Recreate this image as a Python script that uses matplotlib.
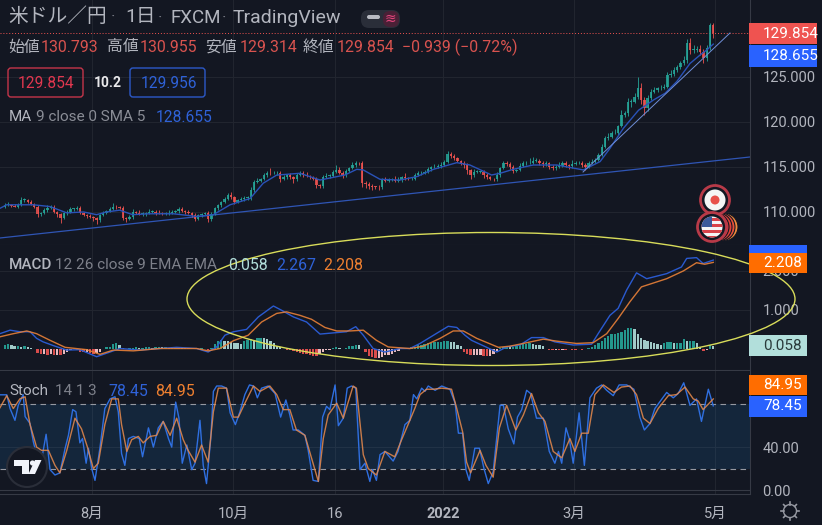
import numpy as np
import matplotlib
matplotlib.use("Agg")
import matplotlib.pyplot as plt
from matplotlib.patches import Ellipse, Circle, Rectangle, FancyBboxPatch, Polygon

plt.rcParams['font.family'] = ['Roboto', 'Noto Sans CJK JP', 'DejaVu Sans']

BG = '#131722'
GRID = '#21252f'
AXIS_LINE = '#363a45'
TEXT = '#b2b5be'
UP = '#26a69a'
DOWN = '#ef5350'
BLUE = '#2962ff'
ORANGE = '#ff6d00'

# daily closes
closes = [
    110.78, 110.78, 110.7, 110.6, 110.78, 111.33, 111.33, 111.15, 110.9, 110.6,
    109.78, 109.93, 110.22, 110.48, 110.52, 110.04, 109.78, 109.3, 109.85, 110.04,
    110.33, 110.37, 110.41, 109.85, 109.7, 109.55, 109.48, 109.33, 109.11, 109.63,
    109.93, 110.07, 110.37, 110.56, 110.52, 110.44, 109.3, 109.19, 109.41, 110.0,
    109.93, 109.78, 109.78, 109.93, 110.0, 110.04, 109.89, 109.85, 109.81, 109.85,
    109.85, 110.0, 110.07, 110.3, 110.15, 110.0, 109.93, 109.67, 109.26, 109.63,
    109.78, 109.85, 109.22, 109.78, 110.41, 110.74, 111.11, 111.41, 111.89, 111.63,
    111.11, 111.33, 111.44, 111.52, 111.63, 112.44, 113.37, 113.48, 113.63, 114.11,
    114.37, 114.3, 114.3, 114.3, 113.63, 113.85, 114.07, 113.85, 113.63, 114.11,
    114.3, 114.11, 114.0, 113.85, 113.7, 113.0, 112.89, 113.93, 114.0, 114.0,
    114.48, 114.67, 114.37, 114.11, 114.59, 114.85, 115.22, 115.48, 115.41, 113.19,
    113.11, 112.89, 112.81, 112.78, 112.74, 113.55, 113.48, 113.52, 113.55, 113.48,
    113.55, 113.85, 113.74, 113.63, 113.7, 114.11, 114.3, 114.37, 114.48, 114.74,
    114.96, 115.04, 115.11, 115.22, 115.59, 116.44, 116.22, 115.96, 115.7, 115.48,
    115.22, 114.67, 114.11, 114.48, 114.48, 114.48, 114.11, 113.85, 113.7, 113.63,
    114.11, 114.85, 115.41, 115.33, 115.04, 114.59, 114.67, 115.11, 115.41, 115.41,
    115.48, 115.7, 115.7, 115.48, 115.33, 115.41, 115.04, 114.85, 114.96, 115.11,
    115.41, 115.22, 115.11, 115.33, 115.41, 115.41, 115.22, 115.04, 115.41, 115.59,
    115.78, 116.3, 117.26, 118.19, 118.37, 118.74, 118.8, 119.5, 120.8, 120.97,
    122.26, 122.26, 122.8, 123.74, 122.45, 121.52, 122.63, 123.37, 123.56, 123.74,
    123.74, 123.93, 125.22, 125.33, 125.78, 126.15, 126.52, 126.9, 128.82, 128.0,
    128.0, 128.08, 127.82, 127.08, 128.19, 130.793, 129.854,
]
first_open = 110.6
wick_up = [
    .2, .3, .1, .2, .2, .3, .2, .1, .2, .1,
    .2, .1, .2, .3, .2, .2, .1, .1, .2, .2,
    .2, .1, .3, .2, .1, .1, .2, .1, .1, .2,
    .2, .1, .2, .4, .2, .1, .2, .1, .2, .3,
    .1, .3, .2, .1, .3, .2, .2, .3, .1, .2,
    .4, .2, .1, .3, .2, .1, .2, .1, .2, .2,
    .1, .2, .3, .2, .1, .2, .1, .3, .2, .3,
    .2, .1, .2, .2, .1, .3, .2, .3, .1, .2,
    .2, .5, .2, .2, .2, .3, .1, .3, .2, .2,
    .3, .2, .3, .1, .2, .2, .1, .2, .3, .2,
    .2, .5, .3, .2, .2, .2, .3, .2, .1, .3,
    .3, .2, .2, .1, .2, .2, .3, .2, .2, .4,
    .3, .2, .5, .2, .2, .2, .3, .2, .2, .3,
    .2, .3, .2, .3, .2, .3, .2, .2, .2, .1,
    .2, .2, .1, .3, .2, .1, .2, .2, .2, .1,
    .3, .2, .3, .2, .2, .2, .1, .3, .3, .2,
    .5, .4, .3, .2, .2, .3, .1, .2, .3, .4,
    .2, .3, .1, .4, .2, .2, .3, .2, .2, .3,
    .2, .2, .3, .2, .4, .3, .4, .2, .5, .3,
    .4, .3, .4, 1.3, .6, .3, .4, .3, .3, .2,
    .4, .3, .3, .5, .3, .2, .3, .4, .4, .5,
    .5, .4, .5, .3, .4, .162, .162,
]
wick_dn = [
    .2, .1, .2, .1, .2, .1, .2, .2, .1, .2,
    .3, .2, .1, .2, .1, .2, .3, .5, .1, .2,
    .1, .2, .2, .1, .2, .2, .1, .3, .4, .2,
    .1, .2, .1, .1, .2, .1, .2, .3, .1, .2,
    .2, .1, .2, .2, .1, .1, .2, .1, .2, .1,
    .2, .1, .1, .2, .1, .2, .1, .2, .3, .1,
    .2, .1, .3, .2, .1, .2, .2, .1, .1, .2,
    .2, .1, .1, .2, .2, .3, .2, .1, .2, .1,
    .2, .2, .1, .2, .3, .1, .2, .2, .4, .2,
    .1, .2, .1, .2, .2, .3, .2, .2, .1, .2,
    .1, .1, .2, .3, .2, .1, .1, .2, .2, .4,
    .4, .3, .4, .2, .3, .2, .1, .2, .1, .2,
    .1, .2, .2, .1, .1, .2, .1, .2, .1, .1,
    .2, .1, .1, .2, .1, .1, .2, .2, .2, .3,
    .3, .4, .4, .2, .2, .2, .3, .2, .2, .2,
    .2, .2, .1, .2, .3, .3, .2, .1, .1, .2,
    .1, .1, .2, .3, .3, .2, .3, .2, .2, .1,
    .1, .2, .3, .2, .1, .1, .2, .4, .2, .1,
    .2, .1, .1, .2, .2, .2, .1, .3, .1, .2,
    .3, .6, .2, .2, .5, .7, .3, .2, .2, .2,
    .2, .1, .2, .2, .2, .2, .3, .2, .3, .4,
    .3, .2, .4, .5, .3, .2, .54,
]

# moving average and trend lines on the price pane (bar index, price)
ma_bars = [-1.5, 0.6, 4.1, 8.7, 13.8, 18.9, 24, 28, 31, 35, 39, 44, 51.4, 58.5, 63.6, 68.7, 74.8,
           78.8, 82.9, 90, 96.1, 103.7, 107.3, 109.3, 114.4, 120.5, 125.6, 130.7, 137.8, 141.8,
           148.4, 151, 155, 161.1, 168.3, 176.4, 181.5, 184.5, 188.6, 193.2, 197.8, 201.3, 204.9,
           208.9, 212, 214, 216]
ma_vals = [110.4, 110.8, 110.8, 110.8, 110.6, 109.9, 110, 109.7, 110, 110.2, 109.7, 109.8, 109.8,
           109.5, 109.7, 110.8, 111.5, 113.2, 114.1, 114.3, 113.55, 114.11, 114.74, 114.67, 113.63,
           113.55, 113.93, 114.74, 115.48, 115.22, 114.11, 114.3, 114.74, 115.22, 115.22, 114.67,
           115.6, 117.07, 119.3, 121.3, 122.45, 123.19, 124.5, 126.5, 127.45, 128.0, 128.655]
trend_long_bars = [-1.46, 227.2]
trend_long_vals = [107.11, 116.11]
trend_steep_bars = [176.3, 221.1]
trend_steep_vals = [114.44, 129.89]

# MACD pane
macd_bars = [-1.5, 1.6, 4.6, 7.7, 9.7, 11.7, 15.3, 18.9, 22.9, 28, 32.1, 35.1, 41.2, 47.3, 52.4,
             58.5, 62, 64.6, 67.1, 69.7, 73.7, 77.3, 81.9, 84.4, 88, 92, 96.1, 100.1, 104.2, 107,
             109.3, 112.3, 115.9, 120.5, 123.5, 126.6, 130.7, 135.2, 137.8, 140.3, 142.3, 145.4,
             150, 153, 157.1, 160.6, 164.2, 167.7, 173.3, 178.9, 180.9, 184.5, 187, 189.6, 192.6,
             195.7, 201.8, 206.3, 207.9, 210.9, 212.9, 216]
macd_vals = [.38, .47, .43, .43, .26, .17, .06, -.04, -.03, -.21, -.09, 0, -.04, 0, .03,
             0, -.09, .04, .34, .43, .49, .81, 1.09, .98, .81, .68, .37, .4, .43, .56,
             .34, 0, -.09, 0, 0, .13, .34, .57, .54, .34, .21, .09,
             -.09, .04, .09, .28, .28, .17, .09, .11, .38, .85, 1.03, 1.5, 1.94,
             1.79, 1.92, 2.09, 2.31, 2.33, 2.18, 2.267]
signal_bars = [-1.5, 2.6, 6.7, 9.7, 13.8, 18.4, 25, 29, 33.1, 39.2, 47.3, 58.5, 62, 65.6, 69.7, 74.2,
               78.3, 82.9, 85.9, 90, 93.5, 97.6, 101.2, 105.2, 109.3, 113.3, 116.9, 123.5, 127.6,
               132.7, 136.7, 139.8, 143.9, 150.5, 154, 158.1, 164.2, 168.2, 174.3, 179.4, 183.5,
               187, 190.6, 194.1, 201.8, 206.9, 210.9, 213.4, 216]
signal_vals = [.30, .38, .45, .38, .21, .03, -.03, -.15, -.04, -.06, 0, 0, -.06, 0, .2, .34,
               .68, .9, .94, .85, .75, .54, .45, .45, .47, .21, .04, 0, .06,
               .26, .45, .45, .26, .03, .06, .13, .24, .19, .13, .15, .38,
               .77, 1.2, 1.58, 1.79, 1.99, 2.2, 2.16, 2.208]
hist_vals = [
    .10, .11, .09, .06, .07, .04, .07, .05, .02, -.02,
    -.12, -.15, -.15, -.16, -.15, -.16, -.16, -.17, -.14, -.10,
    -.05, -.01, -.04, -.08, -.10, -.10, -.11, -.13, -.12, -.08,
    -.02, .03, .05, .11, .13, .10, .01, -.01, .02, .02,
    .03, .02, .02, .03, .03, .02, .03, .05, .03, .03,
    .02, .03, .04, .05, .03, .02, .01, -.01, -.02, -.01,
    .01, .0, -.04, .02, .12, .20, .22, .20, .18, .16,
    .15, .14, .12, .18, .22, .24, .22, .26, .28, .26,
    .24, .20, .14, .07, .03, -.01, -.04, -.05, -.07, -.09,
    -.11, -.13, -.15, -.16, -.19, -.20, -.15, -.10, -.05, -.03,
    .02, .03, .01, -.01, .01, .06, .07, .09, .08, -.02,
    -.10, -.20, -.23, -.25, -.25, -.23, -.17, -.17, -.14, -.09,
    -.07, -.02, -.01, .01, .03, .05, .08, .10, .12, .13,
    .15, .16, .17, .17, .18, .20, .17, .16, .10, .07,
    -.10, -.15, -.17, -.17, -.17, -.17, -.18, -.20, -.18, -.15,
    -.06, .02, .03, .05, .04, .04, .07, .09, .11, .12,
    .13, .12, .09, .08, .07, -.01, -.03, -.04, -.03, -.05,
    -.03, -.04, -.02, -.03, -.04, -.02, -.03, -.02, .02, .04,
    .08, .14, .20, .28, .33, .37, .38, .40, .42, .47,
    .52, .53, .50, .38, .26, .23, .18, .16, .13, .12,
    .10, .15, .16, .16, .14, .14, .14, .24, .20, .20,
    .20, .13, .03, -.07, -.05, .09, .058,
]

# Stochastic pane
k_bars = [-1.5, 0.6, 1.6, 3.1, 4.1, 5.6, 6.2, 7.7, 8.7, 9.7, 11.2, 12.6, 13.8, 15.3, 16.8, 18.4, 19.4,
          20.7, 21.7, 22.9, 23.7, 24.8, 25.5, 26.5, 27.5, 29, 30.5, 32.1, 33.6, 34.6, 35.6, 36.6,
          37.7, 39.2, 41, 42, 43.8, 45.3, 46.8, 48.3, 49.9, 50.9, 52.1, 53.1, 54.1, 55.5, 57, 58,
          59.5, 60.5, 61.5, 62.8, 63.6, 64.6, 66.1, 67.6, 68.7, 70.3, 71.7, 73.2, 74.6, 75.8, 77,
          78.3, 80.3, 82.4, 84.1, 85.7, 86.9, 87.9, 89.5, 91.5, 92.5, 94, 95.6, 96.9, 98.1, 99.1,
          100.7, 101.7, 103.2, 104.4, 105.7, 107, 108.3, 109.8, 111.3, 112.1, 113.3, 114.4, 115.9,
          118.4, 119.9, 122, 123.5, 124.6, 125.6, 127.1, 128.1, 129.1, 131.2, 133.2, 135.7, 137.3,
          138.3, 139.6, 140.6, 141.6, 143.3, 144.7, 146.1, 147.4, 148.9, 151, 152, 153.5, 155.2,
          156.3, 157.6, 159.1, 160.3, 162.1, 164.2, 166, 167.7, 168.8, 169.8, 171.1, 172.1, 173.3,
          175.1, 176.7, 178.4, 180.4, 182, 183.5, 185.5, 187.3, 189.6, 191.8, 193.6, 195, 196.7,
          198.2, 201.8, 203.8, 205.3, 207, 208.9, 210.9, 212.4, 214.5, 216]
k_vals = [88.8, 88.8, 76, 65, 79, 89, 68.5, 62, 45, 33, 28, 52, 19, 14, 16, 39, 51,
          75, 73, 44, 48, 25, 39, 20, 9, 39, 76, 85, 87, 73, 34, 23,
          48, 50, 48, 31, 58, 40, 58, 64, 48, 40, 82, 67, 25, 42, 19, 25,
          65, 23, 6, 48, 92, 97, 97, 95, 72, 61, 73, 89, 98, 97, 86,
          95, 97, 90, 68, 84, 70, 56, 56, 51, 37, 9, 8, 68, 78, 75,
          98, 60, 67, 95, 97, 95, 19, 25, 8, 19, 9, 33, 36,
          27, 36, 61, 65, 89, 85, 95, 92, 97, 93, 97, 94, 81,
          53, 53, 19, 9, 39, 39, 20, 6, 17, 79, 79, 57, 43,
          68, 75, 93, 90, 67, 67, 36, 25, 36, 25, 58, 48, 25,
          72, 23, 86, 95, 98, 93, 88, 98, 98, 94, 68, 56, 62,
          76, 91, 86, 90, 100, 79, 85, 64, 94, 78.45]
d_bars = [-1.5, 0.6, 2.6, 4.6, 6.2, 7.7, 9.7, 11.2, 13.3, 15.3, 16.8, 18.9, 21.4, 23.4, 25.2, 27, 28.5,
          30.5, 32.6, 34.6, 35.6, 37.2, 38.7, 40.7, 42.2, 44.3, 46.3, 48.3, 50.4, 52.4, 54.4, 55.9,
          58, 60, 62, 63.6, 65.1, 67.6, 69.7, 71.2, 73.2, 75.8, 77.8, 80.8, 82.9, 84.9, 86.9, 88.9,
          91.5, 93.5, 95.6, 97.1, 98.6, 101.2, 103.2, 106.2, 107.2, 109.3, 110.8, 113.3, 115.9,
          118.9, 121, 123.5, 125, 126.6, 128.6, 130.7, 133.2, 136.2, 137.8, 139.6, 140.8, 142,
          144.9, 146.7, 148.9, 150.8, 153, 155.8, 158.1, 160.6, 162.7, 164.7, 167.2, 169.8, 172.3,
          173.8, 175.9, 177.9, 179.9, 182.5, 185.7, 188, 190.6, 192.6, 194.7, 196.7, 199.2, 202.3,
          204.8, 207.4, 209.9, 211.4, 212.9, 216]
d_vals = [76.6, 88, 76, 85, 87, 61, 40, 37, 37, 23, 16, 37, 67, 57, 40, 20, 25,
          61, 85, 85, 61, 36, 47, 50, 44, 50, 51, 64, 51, 67, 47, 37,
          26, 42, 26, 73, 95, 95, 68, 68, 81, 97, 92, 97, 89, 75, 75, 56,
          51, 30, 8, 48, 70, 81, 67, 97, 95, 33, 20, 14, 36,
          31, 47, 65, 76, 89, 94, 94, 95, 94, 76, 54, 26, 16,
          37, 23, 12, 58, 79, 56, 70, 90, 72, 64, 36, 30, 48,
          36, 53, 53, 89, 98, 91, 96, 97, 89, 67, 62, 76, 88,
          89, 96, 85, 83, 75, 84.95]

price_ticks = [110, 115, 120, 125]
price_labels = ['110.000', '115.000', '120.000', '125.000']
macd_ticks = [1, 2]
macd_labels = ['1.000', '2.000']
stoch_ticks = [0, 40]
stoch_labels = ['0.00', '40.00']
month_ticks = [26.6, 69.6, 100.7, 133.6, 173.5, 216.5]
month_labels = ['8月', '10月', '16', '2022', '3月', '5月']

W, H = 822, 525
fig = plt.figure(figsize=(W / 100, H / 100), dpi=100, facecolor=BG)


def pane(top, bottom, ylim):
    ax = fig.add_axes([0, 1 - bottom / H, 750 / W, (bottom - top) / H], facecolor=BG)
    ax.set_xlim(-1.46, 227.2)
    ax.set_ylim(*ylim)
    for s in ax.spines.values():
        s.set_visible(False)
    ax.spines['right'].set_visible(True)
    ax.spines['right'].set_color(AXIS_LINE)
    ax.spines['bottom'].set_visible(True)
    ax.spines['bottom'].set_color(AXIS_LINE)
    ax.yaxis.tick_right()
    ax.tick_params(axis='y', length=0, pad=9, labelsize=10.5, labelcolor=TEXT)
    ax.tick_params(axis='x', length=0, labelbottom=False)
    ax.set_xticks(month_ticks)
    ax.grid(True, color=GRID, lw=0.8)
    ax.set_axisbelow(True)
    return ax


ax_price = pane(0, 245, (106.33, 133.556))
ax_macd = pane(245, 370, (-0.551, 2.654))
ax_stoch = pane(371, 494, (-3.7, 111))

# price pane
x = np.arange(len(closes))
closes_arr = np.array(closes)
opens = np.r_[first_open, closes_arr[:-1]]
highs = np.maximum(opens, closes_arr) + np.array(wick_up)
lows = np.minimum(opens, closes_arr) - np.array(wick_dn)
colors = [UP if c >= o else DOWN for o, c in zip(opens, closes_arr)]
ax_price.vlines(x, lows, highs, colors=colors, lw=0.7, alpha=0.85, zorder=3)
ax_price.bar(x, np.maximum(np.abs(closes_arr - opens), 0.06), bottom=np.minimum(opens, closes_arr),
             width=0.72, color=colors, alpha=0.85, lw=0, zorder=3)
ax_price.plot(ma_bars, ma_vals, color='#2a52b8', lw=1.0, zorder=4)
ax_price.plot(trend_long_bars, trend_long_vals, color='#2f55b5', lw=0.9, zorder=2)
ax_price.plot(trend_steep_bars, trend_steep_vals, color='#6f8fd8', lw=0.7, zorder=4)
ax_price.axhline(closes[-1], color=DOWN, lw=0.7, ls=(0, (1, 2)), zorder=2)
ax_price.set_yticks(price_ticks, price_labels)

# MACD pane
hist = np.array(hist_vals)
prev = np.r_[hist[0], hist[:-1]]
hist_colors = []
for h, p in zip(hist, prev):
    if h >= 0:
        hist_colors.append(UP if h >= p else '#b2dfdb')
    else:
        hist_colors.append('#ffcdd2' if h >= p else DOWN)
ax_macd.bar(x, hist, width=0.72, color=hist_colors, alpha=0.9, lw=0, zorder=2)
ax_macd.plot(macd_bars, macd_vals, color='#2a5ad0', lw=1.0, zorder=3)
ax_macd.plot(signal_bars, signal_vals, color='#e88038', lw=1.0, alpha=0.9, zorder=4)
ax_macd.set_yticks(macd_ticks, macd_labels)

# Stochastic pane
ax_stoch.axhspan(20, 80, color='#2196f3', alpha=0.12, lw=0, zorder=1)
ax_stoch.axhline(80, color='#9598a1', lw=0.8, ls=(0, (5, 4)), zorder=2)
ax_stoch.axhline(20, color='#9598a1', lw=0.8, ls=(0, (5, 4)), zorder=2)
ax_stoch.axhline(0, color=AXIS_LINE, lw=0.8, zorder=2)
ax_stoch.plot(k_bars, k_vals, color='#2f6fe0', lw=1.0, zorder=3)
ax_stoch.plot(d_bars, d_vals, color='#e88a4c', lw=1.0, alpha=0.85, zorder=4)
ax_stoch.set_yticks(stoch_ticks, stoch_labels)
ax_stoch.set_xticks(month_ticks, month_labels)
ax_stoch.tick_params(axis='x', labelbottom=True, labelsize=10.5, labelcolor=TEXT, pad=9)
ax_stoch.get_xticklabels()[3].set_fontweight('bold')

# overlay in pixel coordinates for labels, tags and drawings
ov = fig.add_axes([0, 0, 1, 1], zorder=10)
ov.set_xlim(0, W)
ov.set_ylim(H, 0)
ov.axis('off')
ov.patch.set_alpha(0)

ov.add_patch(Ellipse((491, 299), 608, 133, fill=False, ec='#d8dc5a', lw=1.0, zorder=2))


def label(px, py, s, color=TEXT, size=11.4, **kw):
    ov.text(px, py, s, color=color, fontsize=size, va='center', zorder=6, **kw)


# header
label(8, 17, '米ドル／円', size=14.2)
label(111, 17, '·', color='#787b86', size=12)
label(125, 17, '1日', size=14)
label(158, 18, '·', color='#787b86', size=12)
label(170, 18, 'FXCM', size=13.5)
label(222, 18, '·', color='#787b86', size=12)
label(233, 18, 'TradingView', size=14)
ov.add_patch(FancyBboxPatch((361, 10), 39, 18, boxstyle='round,pad=0,rounding_size=8', fc='#2a2e39', ec='none', zorder=3))
ov.add_patch(FancyBboxPatch((383, 11), 16, 16, boxstyle='round,pad=0,rounding_size=7', fc='#4a2036', ec='none', zorder=3))
ov.add_patch(FancyBboxPatch((367, 15), 13, 4, boxstyle='round,pad=0,rounding_size=2', fc='#b8bac2', ec='none', zorder=4))
label(385, 18.5, '≋', color='#e0457b', size=10)

# OHLC row
for px, s in zip([8, 107, 205, 303], ['始値', '高値', '安値', '終値']):
    label(px, 47, s)
for px, s in zip([41, 140, 240, 337, 402],
                 ['130.793', '130.955', '129.314', '129.854', '−0.939 (−0.72%)']):
    label(px, 47, s, color='#d9534f')

# spread row
ov.add_patch(FancyBboxPatch((8, 68), 75, 29, boxstyle='round,pad=0,rounding_size=3', fc='none', ec='#c4354a', lw=1, zorder=3))
label(18, 83, '129.854', color='#e0374f', size=11.2)
label(94, 83, '10.2', color='#e8e8ea', size=10, fontweight='bold')
ov.add_patch(FancyBboxPatch((130, 68), 75, 29, boxstyle='round,pad=0,rounding_size=3', fc='none', ec='#2c59c8', lw=1, zorder=3))
label(141, 83, '129.956', color='#2f62d8', size=11.2)

label(9, 117, 'MA', size=11)
label(36, 117, '9 close 0 SMA 5', color='#8a8d96', size=11)
label(156, 117, '128.655', color='#2f62d8', size=11.2)

label(9, 265, 'MACD', size=11, fontweight='medium')
label(55, 265, '12 26 close 9 EMA EMA', color='#7d808a', size=11)
label(228, 265, '0.058', color='#b2dfdb')
label(276, 265, '2.267', color='#2f62d8')
label(323, 265, '2.208', color='#f08030')

label(9, 391, 'Stoch', size=11)
label(55, 391, '14 1 3', color='#7d808a', size=11)
label(108, 391, '78.45', color='#2f62d8')
label(155, 391, '84.95', color='#f08030')


def tag(top, bottom, right, s, fc, tc='white'):
    ov.add_patch(Rectangle((749, top), right - 749, bottom - top, fc=fc, ec='none', zorder=4))
    ov.text(763, (top + bottom) / 2, s, color=tc, fontsize=11, ha='left', va='center', zorder=5)


tag(23, 44, 817, '129.854', DOWN)
tag(45, 67, 817, '128.655', BLUE)
ov.add_patch(Rectangle((749, 245), 58, 8, fc=BLUE, ec='none', zorder=4))
tag(253, 273, 807, '2.208', ORANGE)
tag(335, 356, 807, '0.058', '#b2dfdb', tc='#2a3a3a')
tag(375, 395, 807, '84.95', ORANGE)
tag(396, 417, 807, '78.45', BLUE)

# event markers
for cx, col in zip([724, 721, 718, 715], ['#f08a3c', '#e8503a', '#e0403a', '#d93a3a']):
    ov.add_patch(Circle((cx, 227), 14, fc=col, ec='#131722', lw=0.8, zorder=3))
ov.add_patch(Circle((715, 200), 14.5, fc='#131722', ec='#b83a48', lw=2, zorder=3))
ov.add_patch(Circle((715, 200), 10.5, fc='#f5f5f5', ec='none', zorder=4))
ov.add_patch(Circle((715, 200), 4.5, fc='#e8504a', ec='none', zorder=5))
ov.add_patch(Circle((712, 227), 14.5, fc='#131722', ec='#b83a48', lw=2, zorder=4))
flag = Circle((712, 227), 10.5, fc='#f5f5f5', ec='none', zorder=5)
ov.add_patch(flag)
for sy in [218, 224, 230, 236]:
    stripe = Rectangle((700, sy), 24, 3, fc='#d9434a', ec='none', zorder=6)
    ov.add_patch(stripe)
    stripe.set_clip_path(flag)
canton = Rectangle((700, 216), 12, 11, fc='#3c5a9a', ec='none', zorder=7)
ov.add_patch(canton)
canton.set_clip_path(flag)

# logo
ov.add_patch(Circle((27, 467), 20, fc='#131722', ec='#2a2e39', lw=1.5, zorder=5))
ov.add_patch(Polygon([(14, 460), (29, 460), (29, 474), (22, 474), (22, 466), (14, 466)], fc='#f0f3fa', ec='none', zorder=6))
ov.add_patch(Circle((32.5, 463), 2.6, fc='#f0f3fa', ec='none', zorder=6))
ov.add_patch(Polygon([(35, 474), (28.5, 474), (35, 460), (41.5, 460)], fc='#f0f3fa', ec='none', zorder=6))

# settings gear
ov.add_patch(Circle((790, 511), 6.5, fc='none', ec='#9598a1', lw=1, zorder=6))
for a in np.deg2rad(np.arange(0, 360, 45)):
    ov.plot([790 + 6.5 * np.cos(a), 790 + 9 * np.cos(a)], [511 + 6.5 * np.sin(a), 511 + 9 * np.sin(a)],
            color='#9598a1', lw=1.2, zorder=6)
ov.set_xlim(0, W)
ov.set_ylim(H, 0)

fig.savefig('out.png', dpi=100, facecolor=BG)
